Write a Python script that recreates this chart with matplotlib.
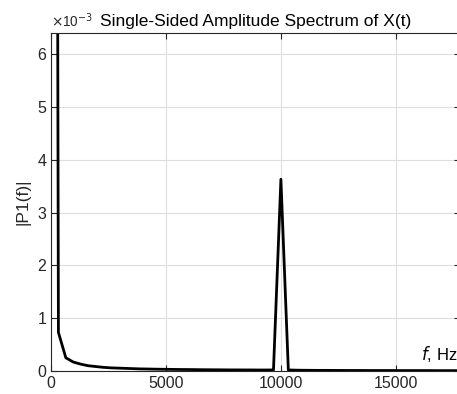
import numpy as np
import matplotlib
matplotlib.use("Agg")
import matplotlib.pyplot as plt

plt.rcParams["font.family"] = ["Liberation Sans", "DejaVu Sans"]

# FFT bin frequencies (Hz) and single-sided amplitude (x1e-3)
freq = [0, 323, 645, 968, 1290, 1613, 1935, 2258, 2581, 2903,
        3226, 3548, 3871, 4194, 4516, 4839, 5161, 5484, 5806, 6129,
        6452, 6774, 7097, 7419, 7742, 8065, 8387, 8710, 9032, 9355,
        9677, 10000, 10323, 10645, 10968, 11290, 11613, 11935, 12258, 12581,
        12903, 13226, 13548, 13871, 14194, 14516, 14839, 15161, 15484, 15806,
        16129, 16452, 16774, 17097, 17419, 17742]
amp = [60.0, 0.73, 0.25, 0.17, 0.13, 0.10, 0.085, 0.07, 0.06, 0.055,
       0.05, 0.045, 0.04, 0.038, 0.035, 0.033, 0.031, 0.029, 0.028, 0.027,
       0.025, 0.024, 0.023, 0.022, 0.021, 0.021, 0.020, 0.020, 0.019, 0.019,
       0.02, 3.63, 0.02, 0.016, 0.014, 0.013, 0.012, 0.012, 0.011, 0.011,
       0.010, 0.010, 0.010, 0.009, 0.009, 0.009, 0.009, 0.008, 0.008, 0.008,
       0.008, 0.008, 0.007, 0.007, 0.007, 0.007]

xticks = [0, 5000, 10000, 15000]
yticks = [0, 1, 2, 3, 4, 5, 6]

fig = plt.figure(figsize=(4.57, 3.94), dpi=100)
# right spine sits just outside the picture, as in the reference
ax = fig.add_axes([51 / 457, 23 / 394, 409 / 457, 338 / 394])

ax.plot(freq, amp, color="black", linewidth=2)

ax.set_xlim(0, 17790)
ax.set_ylim(0, 6.4)
ax.set_xticks(xticks)
ax.set_yticks(yticks)
ax.grid(True, color="#dedede", linewidth=0.8)
ax.set_axisbelow(True)
ax.tick_params(direction="in", length=4, width=0.8, labelsize=11.5,
               top=True, right=True, colors="#262626", labelcolor="#262626")
for s in ax.spines.values():
    s.set_color("#262626")
    s.set_linewidth(0.8)

ax.set_ylabel("|P1(f)|", fontsize=12.5, color="#262626", labelpad=5)
ax.set_title("Single-Sided Amplitude Spectrum of X(t)", fontsize=12.5,
             color="black", pad=5)
ax.text(0.0, 1.01, r"$\times$10$^{-3}$", transform=ax.transAxes,
        fontsize=9.8, color="#262626", ha="left", va="bottom")
ax.text(0.993, 0.02, r"$\it{f}$, Hz", transform=ax.transAxes,
        fontsize=12, color="black", ha="right", va="bottom")

fig.savefig("out.png", dpi=100)
